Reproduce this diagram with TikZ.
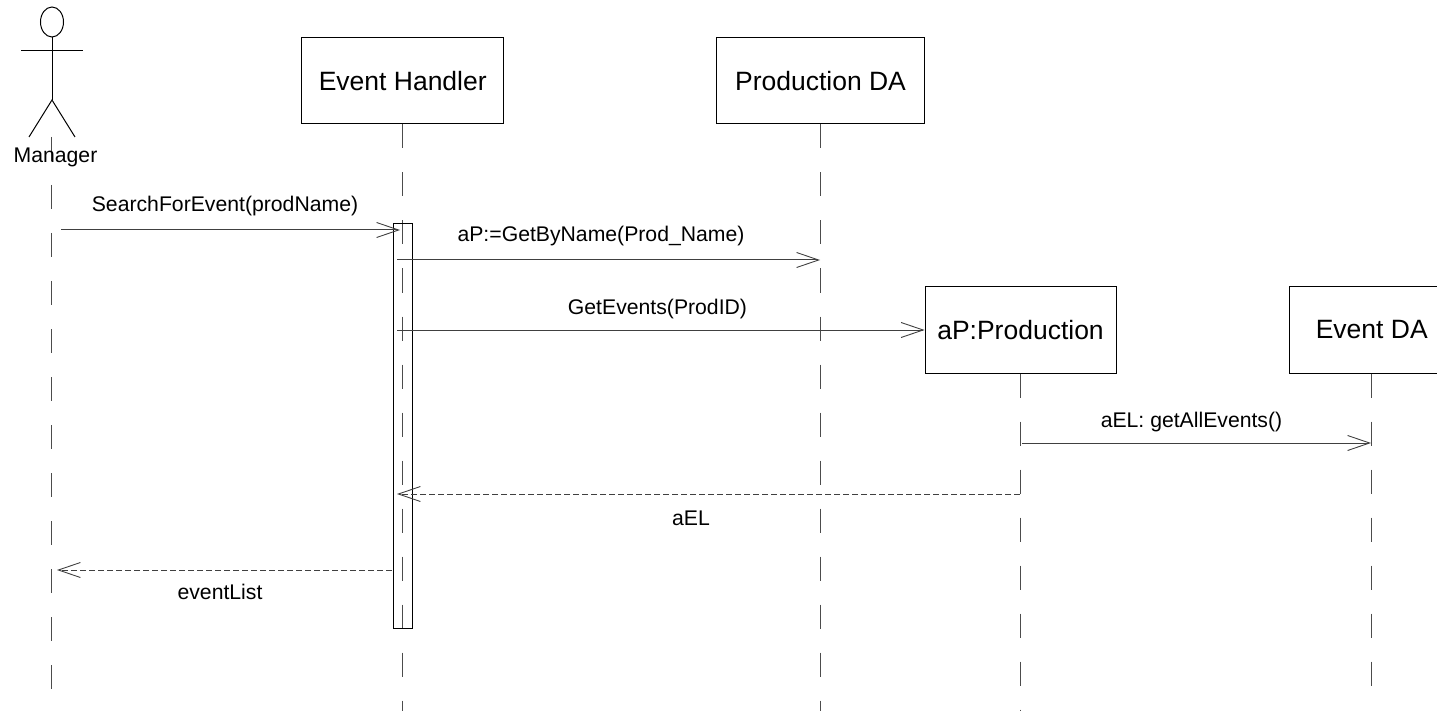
\documentclass[tikz,border=0pt]{standalone}
\usepackage{fontspec}
\setmainfont{Liberation Sans}
\usetikzlibrary{arrows.meta,shapes.geometric}
\tikzset{
  objbox/.style={draw=black,line width=1pt,fill=white,minimum height=86pt,inner sep=0pt,font=\fontsize{26.5}{32}\selectfont},
  lifeline/.style={draw=black!70,line width=1pt,dash pattern=on 24pt off 24pt},
  msg/.style={draw=black!75,line width=1pt,-{Straight Barb[length=22pt,width=15pt,line width=0.9pt]}},
  retmsg/.style={msg,dash pattern=on 6pt off 3pt},
  lbl/.style={inner sep=0pt,font=\fontsize{21.2}{25}\selectfont},
  actor/.style={draw=black,line width=1pt}
}
\begin{document}
\begin{tikzpicture}[x=1pt,y=-1pt]
\useasboundingbox (0,0) rectangle (1437,711);
\coordinate (mtop) at (51.5,137);
\coordinate (mend) at (51.5,690);
\coordinate (ehend) at (402.5,711);
\coordinate (pdend) at (820.5,711);
\coordinate (apend) at (1020,711);
\coordinate (edend) at (1371,686);
\node[objbox,minimum width=202pt] (eh) at (402,81) {\hspace{1.5pt}Event Handler};
\node[objbox,minimum width=208pt] (pd) at (820.5,81) {Production DA};
\node[objbox,minimum width=191pt] (ap) at (1020.5,330) {aP:Production};
\node[objbox,minimum width=164pt] (ed) at (1371,330) {\hspace{1.5pt}Event DA};
\draw[lifeline] (mtop) -- (mend);
\draw[lifeline] (eh.south -| ehend) -- (ehend);
\draw[lifeline] (pd.south -| pdend) -- (pdend);
\draw[lifeline] (ap.south -| apend) -- (apend);
\draw[lifeline] (ed.south -| edend) -- (edend);
\node[draw=black,line width=1pt,minimum width=19pt,minimum height=404pt,inner sep=0pt] (act) at (403,426) {};
\node[draw=black,line width=1pt,ellipse,minimum width=23pt,minimum height=30pt,inner sep=0pt] (head) at (52,22) {};
\coordinate (hip) at (52,100);
\coordinate (la) at (21,51);
\coordinate (ra) at (83,51);
\coordinate (ll) at (29,137);
\coordinate (rl) at (75,137);
\draw[actor] (head.south) -- (hip);
\draw[actor] (la) -- (ra);
\draw[actor] (ll) -- (hip) -- (rl);
\node[lbl] (mgr) at (55.5,157) {Manager};
\coordinate (a1) at (61,230);
\coordinate (b1) at (400,230);
\coordinate (a2) at (397,260);
\coordinate (b2) at (820,260);
\coordinate (a3) at (397,330);
\coordinate (b3) at (ap.west |- a3);
\coordinate (a4) at (1022,443);
\coordinate (b4) at (1371,443);
\coordinate (a5) at (1020,494);
\coordinate (b5) at (397,494);
\coordinate (a6) at (392,570);
\coordinate (b6) at (57,570);
\draw[msg] (a1) -- (b1);
\draw[msg] (a2) -- (b2);
\draw[msg] (a3) -- (b3);
\draw[msg] (a4) -- (b4);
\draw[retmsg] (a5) -- (b5);
\draw[retmsg] (a6) -- (b6);
\node[lbl] (l1) at (225,206.5) {SearchForEvent(prodName)};
\node[lbl] (l2) at (601,236.5) {aP:=GetByName(Prod\_Name)};
\node[lbl] (l3) at (657.5,309.5) {GetEvents(ProdID)};
\node[lbl] (l4) at (1191.5,422.5) {aEL: getAllEvents()};
\node[lbl] (l5) at (691,518) {aEL};
\node[lbl] (l6) at (220,592) {eventList};
\end{tikzpicture}
\end{document}
